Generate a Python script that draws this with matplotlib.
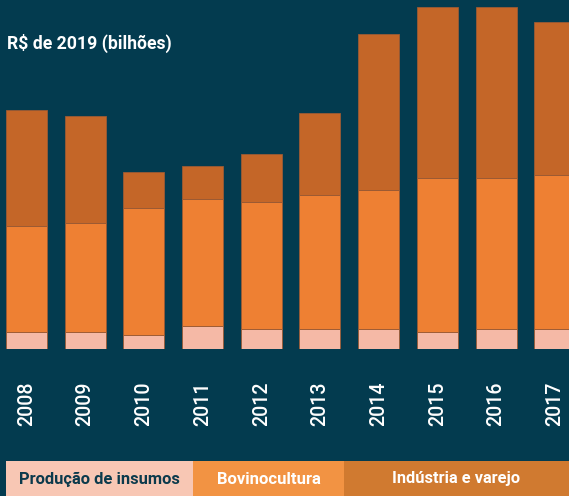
import matplotlib
matplotlib.use("Agg")
import matplotlib.pyplot as plt
from matplotlib.patches import Rectangle
import numpy as np

years = ["2008", "2009", "2010", "2011", "2012", "2013", "2014", "2015", "2016", "2017"]
insumos = [35, 35, 29, 47, 41, 41, 41, 35, 41, 41]
bovinocultura = [212, 218, 254, 254, 254, 267, 278, 307, 301, 307]
industria = [231, 213, 71, 65, 95, 164, 312, 343, 343, 307]
series_names = ["Produção de insumos", "Bovinocultura", "Indústria e varejo"]
ylabel = "R$ de 2019 (bilhões)"

FAM = ["Roboto", "DejaVu Sans"]

BG = "#033B4F"
C_PINK = "#F5B9A6"
C_ORANGE = "#EE8033"
C_DARK = "#C46628"
L_PINK = "#F8C7B4"
L_ORANGE = "#F29343"
L_DARK = "#D07A30"

W, H = 569, 496
fig = plt.figure(figsize=(W / 100, H / 100), dpi=100, facecolor=BG)
base_px = 349
ax = fig.add_axes([0, (H - base_px) / H, 1, base_px / H])
ax.set_facecolor(BG)
spacing = 58.7
x0 = 26.5
ax.set_xlim(-x0 / spacing, (W - x0) / spacing)
ax.set_ylim(0, base_px * 2)

x = np.arange(len(years))
bw = 41 / spacing
edge = dict(edgecolor="#9a5a35", linewidth=0.6)
b1 = np.array(insumos)
b2 = b1 + np.array(bovinocultura)
ax.bar(x, insumos, width=bw, color=C_PINK, **edge)
ax.bar(x, bovinocultura, width=bw, bottom=b1, color=C_ORANGE, **edge)
ax.bar(x, industria, width=bw, bottom=b2, color=C_DARK, **edge)

ax.set_xticks([])
ax.set_yticks([])
for s in ax.spines.values():
    s.set_visible(False)

renderer = fig.canvas.get_renderer()


def fit(t, target_px, maxsize, horizontal=True):
    bb = t.get_window_extent(renderer=renderer)
    cur = bb.width if horizontal else bb.height
    fs = t.get_fontsize() * target_px / cur
    t.set_fontsize(min(fs, maxsize))


for xi, yr in zip(x, years):
    px = x0 + spacing * xi
    t = fig.text(px / W, 1 - 404 / H, yr, rotation=90, ha="center", va="center",
                 color="white", fontsize=14, family=FAM, fontweight="medium")
    fit(t, 38 * 1.18, 16, horizontal=False)

t = fig.text(7 / W, 1 - 43 / H, ylabel, ha="left", va="center", color="white",
             fontsize=14, fontweight="bold", family=FAM)
fit(t, 148 * 1.12, 15)

boxes = [(5.7, 193, L_PINK, "#0B3A4C", 144), (193, 344, L_ORANGE, "white", 93),
         (344, 569, L_DARK, "white", 115)]
for (xa, xb, col, tcol, tw), name in zip(boxes, series_names):
    fig.add_artist(Rectangle((xa / W, 0), (xb - xa) / W, 35 / H, transform=fig.transFigure,
                             facecolor=col, edgecolor="none"))
    t = fig.text((xa + xb) / 2 / W, 1 - 479 / H, name, ha="center", va="center", color=tcol,
                 fontsize=14, fontweight="bold", family=FAM)
    fit(t, tw * 1.12, 15)

fig.savefig("out.png", dpi=100, facecolor=BG)
